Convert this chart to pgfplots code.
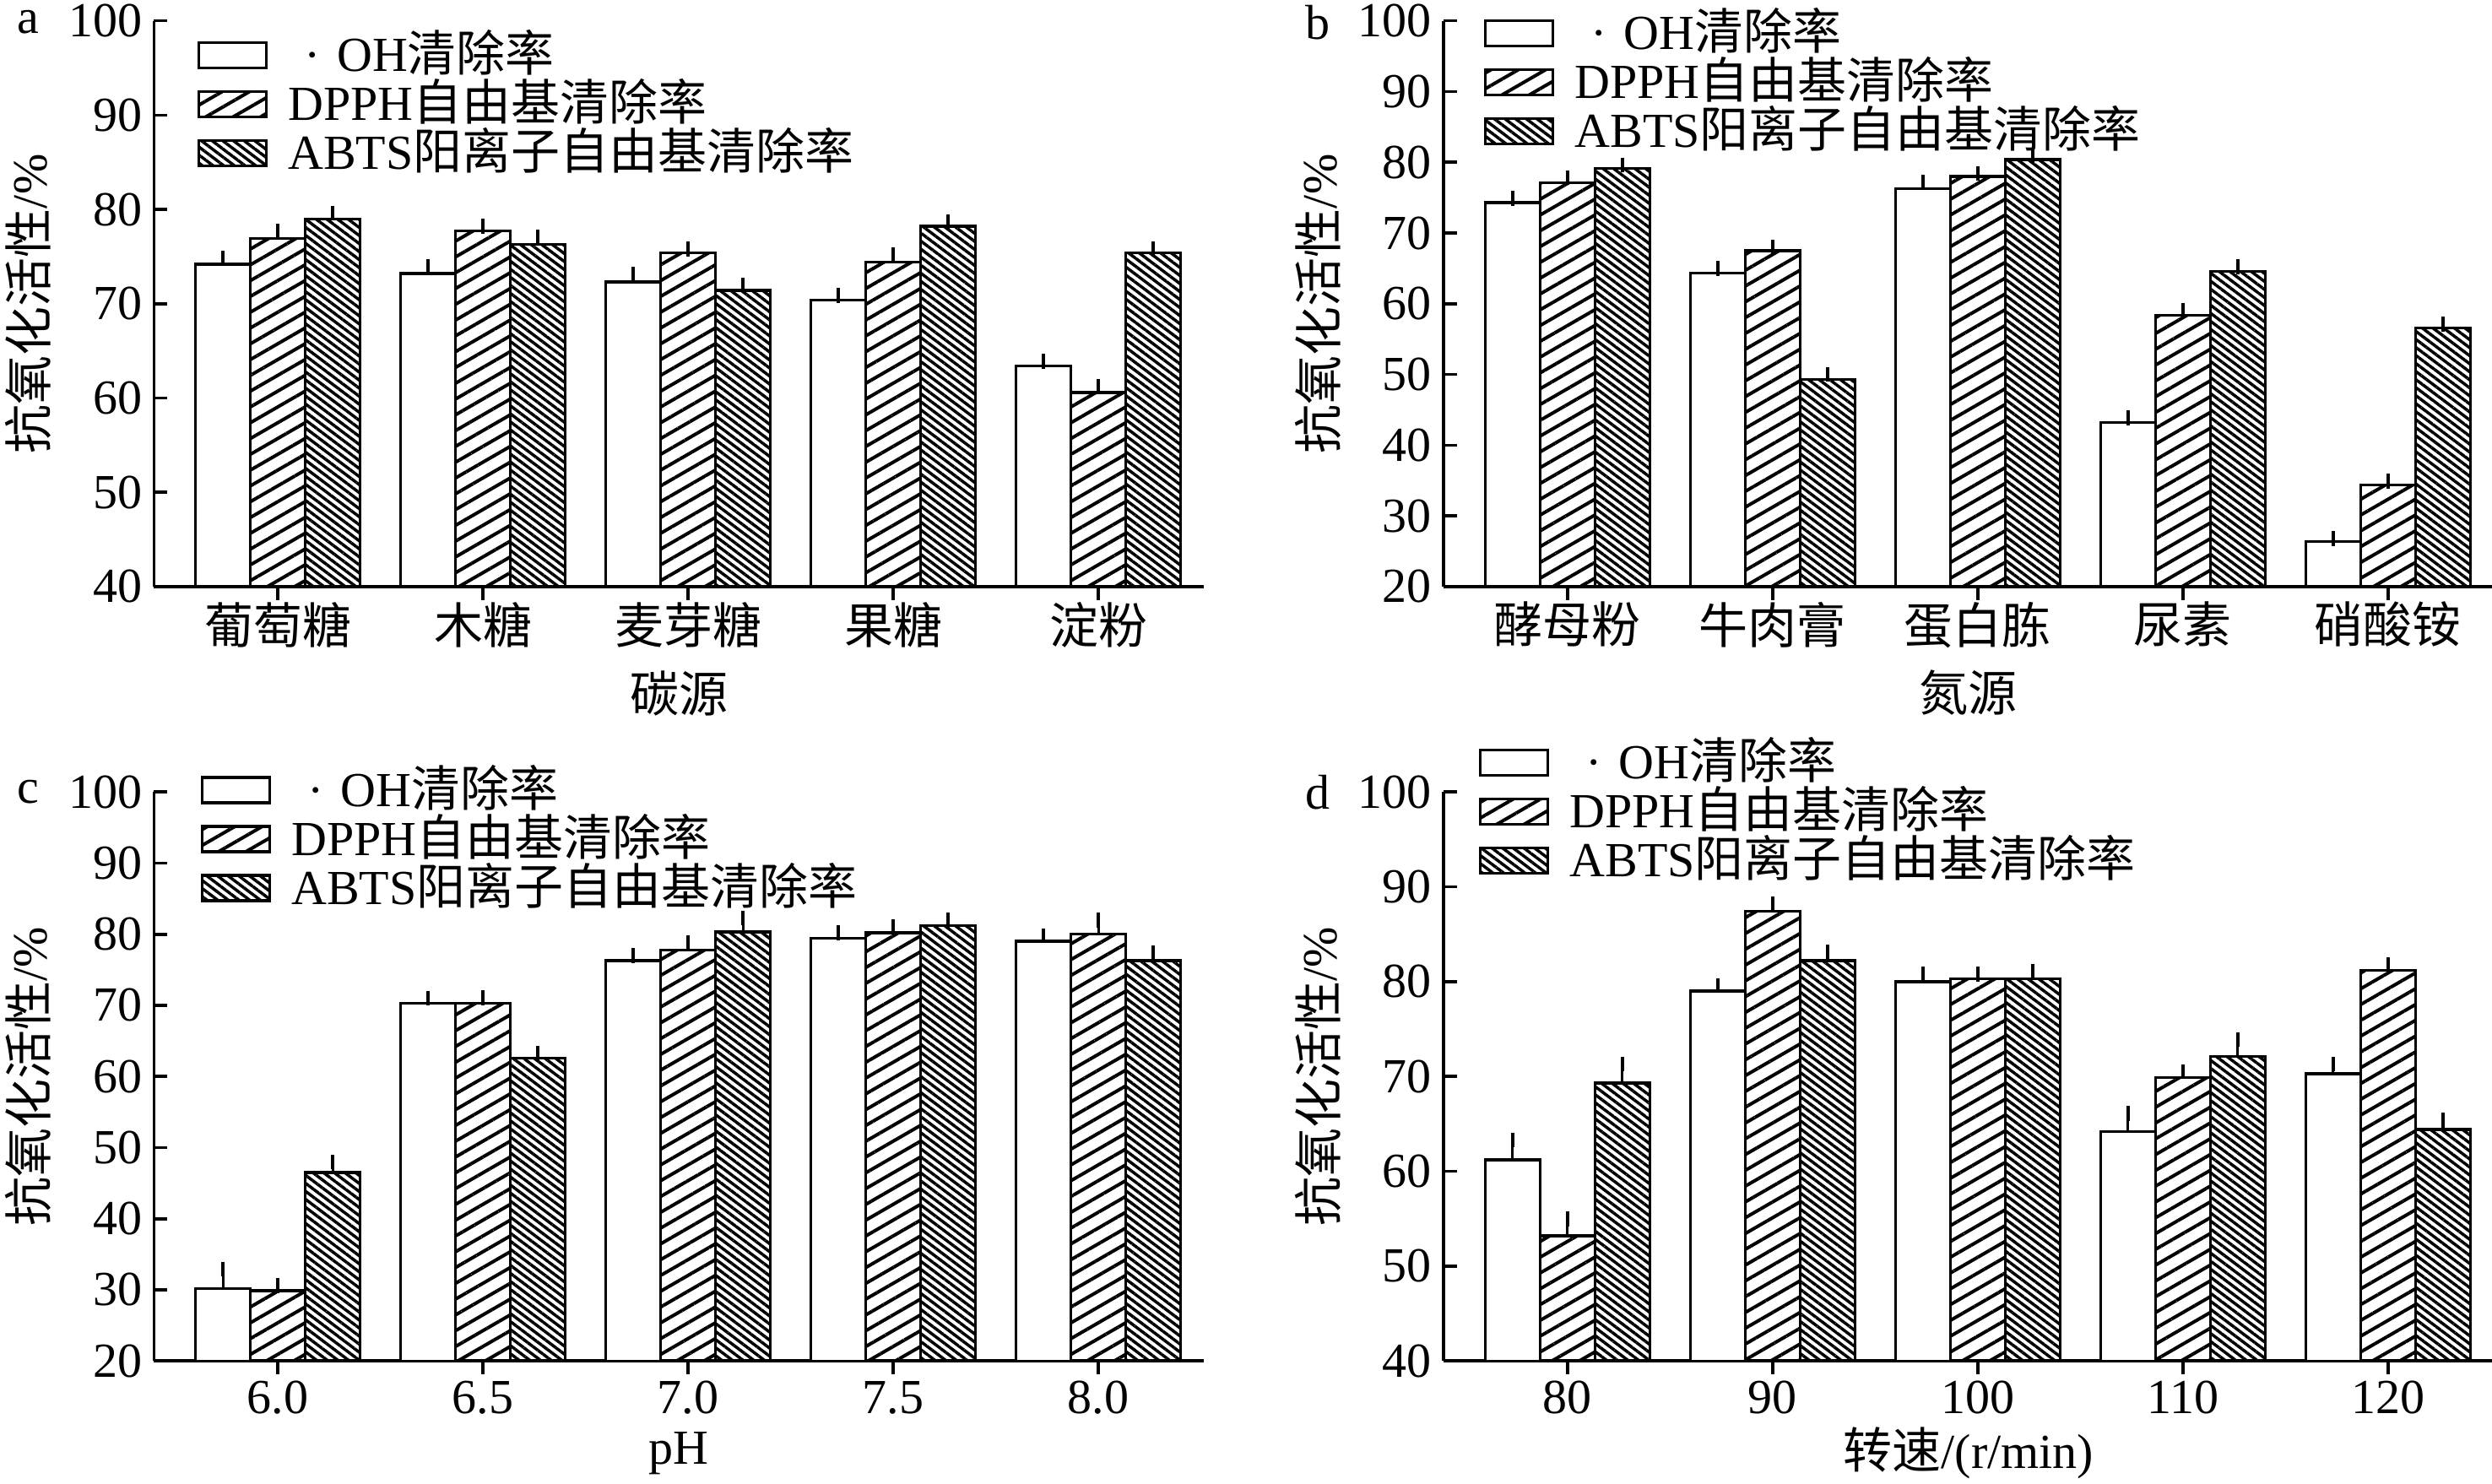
\documentclass[border=0pt]{standalone}
\usepackage{fontspec}
\setmainfont{Liberation Serif}
\newfontfamily\cjk{Noto Sans CJK SC}
\usepackage{pgfplots}
\pgfplotsset{compat=1.18}
\usepackage{pgfplotstable}
\usetikzlibrary{patterns.meta}
\newcommand\fsz{\fontsize{14.5pt}{17.4pt}\selectfont}

% columns: x, OH, OH err, DPPH, DPPH err, ABTS, ABTS err
\pgfplotstableread{
x oh ohe dp dpe ab abe
0 74.2 0.6 76.9 0.8 79.0 0.6
1 73.2 0.7 77.7 0.5 76.3 0.8
2 72.3 0.8 75.4 0.4 71.4 0.6
3 70.4 0.5 74.4 0.8 78.2 0.5
4 63.4 0.5 60.6 0.6 75.4 0.4
}\tabA
\pgfplotstableread{
x oh ohe dp dpe ab abe
0 74.3 0.6 77.1 0.7 79.1 0.5
1 64.3 0.7 67.5 0.5 49.3 0.7
2 76.3 0.9 78.0 0.4 80.4 0.6
3 43.2 0.7 58.4 0.7 64.6 0.6
4 26.4 0.4 34.4 0.5 56.6 0.5
}\tabB
\pgfplotstableread{
x oh ohe dp dpe ab abe
0 30.2 2.7 29.9 0.7 46.5 1.5
1 70.3 0.7 70.3 0.8 62.6 0.7
2 76.3 0.7 77.8 1.0 80.3 2.0
3 79.4 0.8 80.2 0.8 81.2 0.8
4 79.0 0.8 80.0 2.0 76.3 1.1
}\tabC
\pgfplotstableread{
x oh ohe dp dpe ab abe
0 61.2 2.1 53.2 1.8 69.3 2.0
1 79.0 0.6 87.4 0.8 82.2 0.9
2 80.0 0.8 80.3 0.5 80.3 0.8
3 64.2 1.9 69.9 0.6 72.1 1.8
4 70.3 1.0 81.2 0.6 64.4 1.0
}\tabD

\pgfplotsset{
  barbase/.style={
    draw=black, line width=0.85pt,
    error bars/.cd, y dir=plus, y explicit,
      error bar style={line width=0.75pt, solid, black},
      error mark options={line width=1pt, mark size=2.2pt, black, solid},
    /pgfplots/.cd,
    legend image code/.code={\draw[##1] (0pt,1.05pt) rectangle (20pt,8.55pt);},
  },
  ohs/.style={barbase, fill=white, bar shift=-0.2675},
  dps/.style={barbase, pattern={Lines[angle=30,distance=4.05pt,line width=1pt]}, bar shift=0},
  abs/.style={barbase, pattern={Lines[angle=-37,distance=1.9pt,line width=0.88pt]}, bar shift=0.2675},
  myax/.style={
    scale only axis, width=310.9pt, anchor=south west,
    axis lines=left, axis line style={-, line width=0.9pt},
    xmin=-0.604, xmax=4.514,
    xtick={0,1,2,3,4},
    tick align=inside, major tick length=4pt,
    tick style={line width=0.9pt, black},
    ybar=0pt, bar width=0.2675,
    /pgf/number format/assume math mode=true,
    tick label style={font=\fsz},
    label style={font=\fsz},
    ylabel={{\cjk 抗氧化活性}/\%},
    y label style={at={(axis description cs:-0.1198,0.5)}, anchor=center},
    legend style={draw=none, fill=none, inner sep=0pt, outer sep=0pt,
      row sep=0pt, column sep=6pt, font=\fsz, cells={anchor=base west},
      nodes={inner sep=0pt, text height=10.5pt, text depth=4pt},
      anchor=north west},
  },
}
\newcommand\legs{\legend{\makebox[1em]{·}OH{\cjk 清除率},DPPH{\cjk 自由基清除率},ABTS{\cjk 阳离子自由基清除率}}}

\begin{document}
\begin{tikzpicture}[font=\fsz]
\useasboundingbox (0,0) rectangle (738pt,439.25pt);

% panel a
\begin{axis}[myax, name=A, at={(45.6pt,265.5pt)}, height=167.6pt,
  ymin=40, ymax=100, ytick={40,50,...,100},
  xticklabels={{\cjk 葡萄糖},{\cjk 木糖},{\cjk 麦芽糖},{\cjk 果糖},{\cjk 淀粉}},
  x tick label style={yshift=3pt},
  xlabel={\cjk 碳源},
  x label style={at={(axis description cs:0.5,-0.188)}, anchor=center},
  legend style={at={(axis description cs:0.0413,0.9729)}}]
\addplot[ohs] table[x=x,y=oh,y error=ohe]{\tabA};
\addplot[dps] table[x=x,y=dp,y error=dpe]{\tabA};
\addplot[abs] table[x=x,y=ab,y error=abe]{\tabA};
\legs
\end{axis}
\node[anchor=center, inner sep=0pt] at ([xshift=-37.25pt,yshift=-0.5pt]A.north west) {a};

% panel b
\begin{axis}[myax, name=B, at={(427.5pt,265.5pt)}, height=167.6pt,
  ymin=20, ymax=100, ytick={20,30,...,100},
  xticklabels={{\cjk 酵母粉},{\cjk 牛肉膏},{\cjk 蛋白胨},{\cjk 尿素},{\cjk 硝酸铵}},
  x tick label style={yshift=3pt},
  xlabel={\cjk 氮源},
  x label style={at={(axis description cs:0.5,-0.188)}, anchor=center},
  legend style={at={(axis description cs:0.0386,1.0122)}}]
\addplot[ohs] table[x=x,y=oh,y error=ohe]{\tabB};
\addplot[dps] table[x=x,y=dp,y error=dpe]{\tabB};
\addplot[abs] table[x=x,y=ab,y error=abe]{\tabB};
\legs
\end{axis}
\node[anchor=center, inner sep=0pt] at ([xshift=-37.25pt,yshift=-0.5pt]B.north west) {b};

% panel c
\begin{axis}[myax, name=C, at={(45.6pt,36.2pt)}, height=168.5pt,
  ymin=20, ymax=100, ytick={20,30,...,100},
  xticklabels={6.0,6.5,7.0,7.5,8.0},
  x tick label style={yshift=1.5pt},
  xlabel={pH},
  x label style={at={(axis description cs:0.5,-0.1625)}, anchor=center},
  legend style={at={(axis description cs:0.0447,1.0374)}}]
\addplot[ohs] table[x=x,y=oh,y error=ohe]{\tabC};
\addplot[dps] table[x=x,y=dp,y error=dpe]{\tabC};
\addplot[abs] table[x=x,y=ab,y error=abe]{\tabC};
\legs
\end{axis}
\node[anchor=center, inner sep=0pt] at ([xshift=-37.25pt]C.north west) {c};

% panel d
\begin{axis}[myax, name=D, at={(427.5pt,36.2pt)}, height=168.5pt,
  ymin=40, ymax=100, ytick={40,50,...,100},
  xticklabels={80,90,100,110,120},
  x tick label style={yshift=1.5pt},
  xlabel={{\cjk 转速}/(r/min)},
  x label style={at={(axis description cs:0.5,-0.1625)}, anchor=center},
  legend style={at={(axis description cs:0.0338,1.0855)}}]
\addplot[ohs] table[x=x,y=oh,y error=ohe]{\tabD};
\addplot[dps] table[x=x,y=dp,y error=dpe]{\tabD};
\addplot[abs] table[x=x,y=ab,y error=abe]{\tabD};
\legs
\end{axis}
\node[anchor=center, inner sep=0pt] at ([xshift=-37.25pt]D.north west) {d};
\end{tikzpicture}
\end{document}
